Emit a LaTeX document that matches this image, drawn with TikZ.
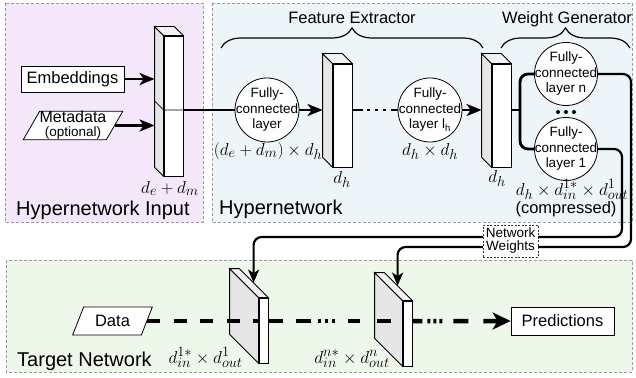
\documentclass[tikz,border=0pt]{standalone}
\usepackage{fontspec}
\setmainfont{Liberation Sans}
\usepackage{tikz}
\usetikzlibrary{positioning, arrows.meta, calc, shapes.geometric, decorations.pathreplacing}

\definecolor{inputbg}{HTML}{F3E7F9}
\definecolor{hyperbg}{HTML}{EDF5F8}
\definecolor{targetbg}{HTML}{EDF7EA}
\definecolor{sidegray}{HTML}{E6E6E6}
\definecolor{topgray}{HTML}{F2F2F2}
\definecolor{framegray}{HTML}{9A9A9A}

% layer slab: name, centre of front face, width, height, depth
\def\slab#1#2#3#4#5{%
    \node[front, minimum width=#3, minimum height=#4] (#1) at (#2) {};
    % side face
    \draw[line width=0.8pt, fill=sidegray] (#1.north west) -- ++(-#5,-#5)
        -- ($(#1.south west)+(-#5,-#5)$) -- (#1.south west) -- cycle;
    % top face
    \draw[line width=0.8pt, fill=topgray] (#1.north west) -- ++(-#5,-#5)
        -- ($(#1.north east)+(-#5,-#5)$) -- (#1.north east) -- cycle;
    \coordinate (#1-side) at ($(#1.west)+(-#5,0)$);
}

\begin{document}
\begin{tikzpicture}[x=1pt, y=-1pt,
    panel/.style={draw=framegray, line width=0.8pt, dash pattern=on 3pt off 2pt},
    front/.style={draw, fill=white, inner sep=0pt, line width=0.8pt},
    fc/.style={circle, draw, fill=white, line width=0.8pt, inner sep=-8pt,
        minimum size=64pt, align=center, font=\fontsize{13.5}{15.5}\selectfont},
    box/.style={draw, fill=white, line width=0.8pt, inner sep=0pt,
        minimum width=103pt, minimum height=26pt, font=\fontsize{16.5}{18}\selectfont},
    para/.style={trapezium, trapezium left angle=60, trapezium right angle=120,
        trapezium stretches=true, draw, fill=white, line width=0.8pt,
        inner sep=0pt, align=center},
    wire/.style={line width=2.8pt},
    tip/.style={-{Stealth[length=15pt, width=12pt, inset=4pt]}},
    feed/.style={line width=2.2pt, rounded corners=8pt,
        -{Stealth[length=13pt, width=11pt, inset=3.5pt]}},
    flow/.style={line width=4.5pt},
    dim/.style={font=\fontsize{19}{19}\selectfont, inner sep=0pt},
    title/.style={font=\fontsize{20}{20}\selectfont, inner sep=0pt, anchor=base west},
    heading/.style={font=\fontsize{16.5}{16.5}\selectfont, inner sep=0pt, anchor=base},
    curly/.style={decorate, decoration={brace, amplitude=20pt}, line width=1.2pt}
]
    \useasboundingbox (0,0) rectangle (636,377);

    % panels
    \draw[panel, fill=inputbg] (5,3) rectangle (203,222);
    \draw[panel, fill=hyperbg] (212,3) rectangle (632,222);
    \draw[panel, fill=targetbg] (6,260) rectangle (632,372);

    \node[title] (inputtitle) at (16,215.5) {Hypernetwork Input};
    \node[title] (hypertitle) at (219,214) {Hypernetwork};
    \node[title] (targettitle) at (17,366) {Target Network};

    % braces
    \draw[curly] (221,48) -- (483,48);
    \node[heading] (fetext) at (352,24) {Feature Extractor};
    \draw[curly] (501,48) -- (630,48);
    \node[heading] (wgtext) at (567,24) {Weight Generator};

    % hypernetwork input
    \node[box] (emb) at (72.5,79) {Embeddings};
    \node[para, minimum width=91pt, minimum height=25pt, font=\fontsize{16}{13}\selectfont]
        (meta) at (73,125.5) {Metadata\\[1pt]{\fontsize{13.5}{13}\selectfont (optional)}};
    \slab{inbox}{173.5,106}{19pt}{140pt}{9}
    \draw[line width=0.8pt] ($(inbox.west)+(-9,-5)$) -- ($(inbox.west)+(0,4)$)
        -- ($(inbox.east)+(0,4)$);
    \draw[wire, tip] (emb.east) -- (emb.east -| inbox-side);
    \draw[wire, tip] (meta.east) -- (meta.east -| inbox-side);
    \node[dim, anchor=base east] (indim) at (199,193) {$d_e + d_m$};

    % feature extractor
    \node[fc] (fc1) at (267,110) {Fully-\\connected\\layer};
    \slab{box2}{342.5,115.5}{19pt}{103pt}{10}
    \node[fc] (fc2) at (430,110) {Fully-\\connected\\layer l\textsubscript{h}};
    \slab{box3}{501.5,115.5}{19pt}{103pt}{10}

    \draw[line width=2pt] (fc1.west -| inbox.east) -- (fc1.west);
    \draw[wire, tip] (fc1.east) -- (fc1.east -| box2-side);
    \draw[wire, dash pattern=on 11pt off 3.5pt on 3pt off 5pt on 3pt off 5pt on 3pt off 5.5pt on 9pt]
        (fc2.west -| box2.east) -- (fc2.west);
    \draw[wire, tip] (fc2.east) -- (fc2.east -| box3-side);

    \node[dim, anchor=base] (fc1dim) at (268,155) {$(d_e + d_m) \times d_h$};
    \node[dim, anchor=base] (fc2dim) at (430,155) {$d_h \times d_h$};
    \node[dim, anchor=base] (box2dim) at (342,183) {$d_h$};
    \node[dim, anchor=base] (box3dim) at (497,182) {$d_h$};

    % weight generator
    \node[fc, minimum size=63pt] (fcn) at (566,74) {Fully-\\connected\\layer n};
    \node[fc, minimum size=63pt] (fcone) at (566,149) {Fully-\\connected\\layer 1};
    \foreach \x in {-8,0,8}
    {
        \fill (566+\x,112) circle (2pt);
    }
    \coordinate (fork) at (520,110);
    \draw[wire] (fork -| box3.east) -- (fork);
    \draw[wire, rounded corners=8pt] (fcn.west) -| (fork) |- (fcone.west);

    \node[dim, anchor=base] (wgdim) at (572,195) {$d_h \times d_{in}^{1*} \times d_{out}^{1}$};
    \node[heading] (compressed) at (566,213) {(compressed)};

    % target network
    \node[para, minimum width=80pt, minimum height=28pt, font=\fontsize{16.5}{18}\selectfont]
        (data) at (112.5,321) {Data};
    \node[box, minimum height=28pt] (pred) at (562.5,321) {Predictions};
    \slab{t1}{263.5,330.5}{9pt}{65pt}{29}
    \slab{t2}{407.5,333.5}{9pt}{65pt}{28}

    \draw[flow, dash pattern=on 13pt off 13.5pt] (data.east) -- (data.east -| t1.west);
    \draw[flow, dash pattern=on 15pt off 13pt on 15pt off 7pt on 3pt off 4pt on 3pt off 4pt on 3pt off 13pt on 12pt off 17pt on 14pt off 12pt]
        (data.east -| t1.east) -- (data.east -| t2.west);
    \draw[flow, dash pattern=on 10pt off 5pt on 3pt off 3pt on 3pt off 3pt on 3pt off 11pt on 15pt off 15pt on 40pt,
        -{Stealth[length=18pt, width=17pt, inset=5pt]}]
        (data.east -| t2.east) -- (pred.west);

    \node[dim, anchor=base] (t1dim) at (205.5,363) {$d_{in}^{1*} \times d_{out}^{1}$};
    \node[dim, anchor=base] (t2dim) at (352,363) {$d_{in}^{n*} \times d_{out}^{n}$};

    % generated weights into the target layers
    \coordinate (bend1) at (622,237);
    \coordinate (bendn) at (631,247);
    \coordinate (t1in) at ($(t1.north west)+(-5,-15)$);
    \coordinate (t2in) at ($(t2.north west)+(-5,-15)$);
    \draw[feed] (fcone.east) -| (bend1) -| (t1in);
    \draw[feed] (fcn.east) -| (bendn) -| (t2in);

    \node[draw=black!80, dash pattern=on 2pt off 1.5pt, line width=0.7pt, fill=white,
        inner sep=1pt, minimum width=55pt, minimum height=32pt, align=center,
        font=\fontsize{13.5}{13}\selectfont] (weights) at (510.5,241) {Network\\Weights};
\end{tikzpicture}
\end{document}
